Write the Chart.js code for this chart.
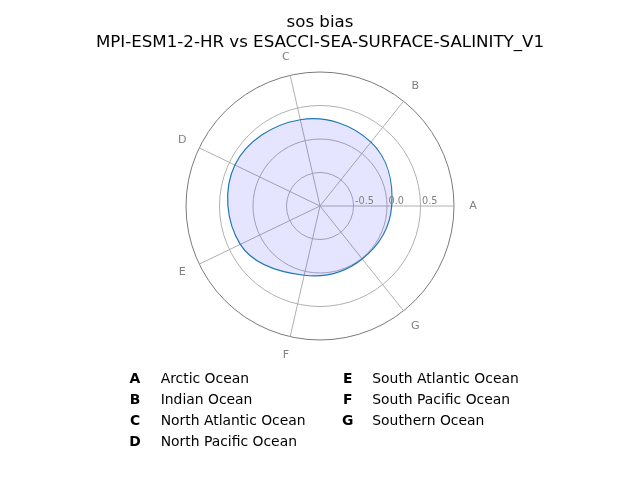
<!DOCTYPE html>
<html>
<head>
<meta charset="utf-8">
<script src="https://cdn.jsdelivr.net/npm/chart.js@4"></script>
<style>
  html, body { margin: 0; padding: 0; background: #fff; }
  #wrap { position: relative; width: 640px; height: 480px; overflow: hidden; font-family: "DejaVu Sans", sans-serif; }
  #c { position: absolute; left: 0; top: 0; }
  #title { position: absolute; left: 0; top: 12px; width: 640px; text-align: center; font-size: 16.67px; line-height: 20px; color: #000; }
  .leg { position: absolute; font-size: 13.9px; line-height: 21px; color: #000; white-space: nowrap; }
  .key { font-weight: bold; text-align: center; width: 20px; }
</style>
</head>
<body>
<div id="wrap">
  <canvas id="c" width="640" height="480"></canvas>
  <div id="title">sos bias<br>MPI-ESM1-2-HR vs ESACCI-SEA-SURFACE-SALINITY_V1</div>
  <div id="legend"></div>
</div>
<script>
// ---- data ----
const categories = ['A', 'B', 'C', 'D', 'E', 'F', 'G'];
const regions = ['Arctic Ocean', 'Indian Ocean', 'North Atlantic Ocean', 'North Pacific Ocean',
                 'South Atlantic Ocean', 'South Pacific Ocean', 'Southern Ocean'];
const biasValues = [0.07, 0.22, 0.32, 0.41, 0.32, 0.06, 0.01];
const tickValues = [-0.5, 0.0, 0.5];
const radialMin = -1.0;
const radialMax = 1.0;

// Chart.js goes clockwise; the reference goes counter-clockwise starting at the right.
const order = [0].concat(categories.slice(1).map((_, i) => categories.length - 1 - i));
const chartLabels = order.map(i => categories[i]);
const chartValues = order.map(i => biasValues[i]);

// ---- legend (HTML text) ----
(function buildLegend() {
  const leg = document.getElementById('legend');
  const perCol = 4;
  const colKeyX = [125, 337.7];
  const colNameX = [160.7, 372.3];
  categories.forEach((c, i) => {
    const col = Math.floor(i / perCol), row = i % perCol;
    const top = 367.5 + row * 21;
    const k = document.createElement('div');
    k.className = 'leg key';
    k.style.left = colKeyX[col] + 'px';
    k.style.top = top + 'px';
    k.textContent = c;
    leg.appendChild(k);
    const n = document.createElement('div');
    n.className = 'leg';
    n.style.left = colNameX[col] + 'px';
    n.style.top = top + 'px';
    n.textContent = regions[i];
    leg.appendChild(n);
  });
})();

const labelPlugin = {
  id: 'labelPlugin',
  afterDatasetsDraw(chart) {
    const s = chart.scales.r;
    const ctx = chart.ctx;
    ctx.save();
    // radial tick labels along the first (A) axis
    ctx.fillStyle = '#808080';
    ctx.font = '9.7px "DejaVu Sans"';
    ctx.textAlign = 'left';
    ctx.textBaseline = 'alphabetic';
    tickValues.forEach(v => {
      const d = s.getDistanceFromCenterForValue(v);
      const p = s.getPointPosition(0, d);
      ctx.fillText(v.toFixed(1), p.x + 1.5, p.y - 2);
    });
    // point labels
    ctx.font = '11.1px "DejaVu Sans"';
    ctx.textAlign = 'center';
    ctx.textBaseline = 'middle';
    chartLabels.forEach((lab, i) => {
      const p = s.getPointPosition(i, s.drawingArea + 19);
      ctx.fillText(lab, p.x, p.y);
    });
    ctx.restore();
  }
};

new Chart(document.getElementById('c'), {
  type: 'radar',
  data: {
    labels: chartLabels,
    datasets: [{
      data: chartValues,
      borderColor: '#1f77b4',
      borderWidth: 1.2,
      backgroundColor: 'rgba(0,0,255,0.1)',
      fill: 'start',
      tension: 0.39,
      pointRadius: 0,
      pointHoverRadius: 0
    }]
  },
  options: {
    responsive: false,
    animation: false,
    devicePixelRatio: 1,
    layout: { padding: { left: 186, right: 186, top: 72, bottom: 140 } },
    plugins: { legend: { display: false }, tooltip: { enabled: false }, filler: { propagate: false } },
    scales: {
      r: {
        min: radialMin,
        max: radialMax,
        startAngle: 90,
        ticks: { display: false, stepSize: 0.5 },
        pointLabels: { display: false },
        grid: {
          circular: true,
          color: (ctx) => (ctx.tick && ctx.tick.value === radialMax) ? '#7a7a7a' : '#b0b0b0',
          lineWidth: 1
        },
        angleLines: { display: true, color: '#b0b0b0', lineWidth: 1 }
      }
    }
  },
  plugins: [labelPlugin]
});
</script>
</body>
</html>
